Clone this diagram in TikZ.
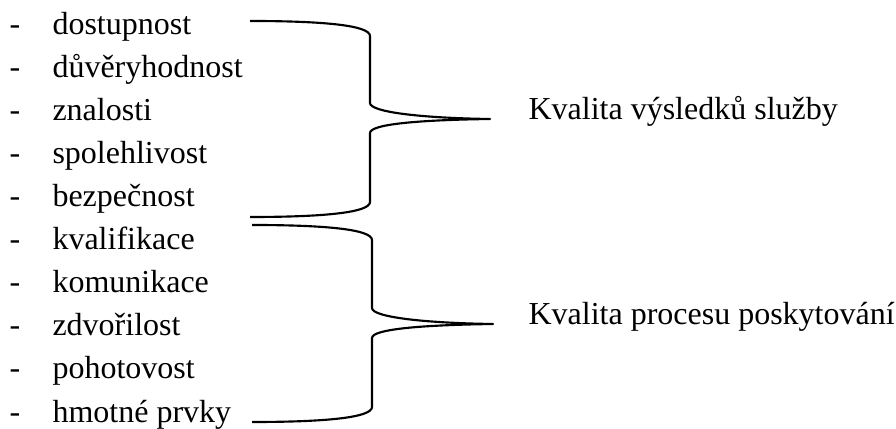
\documentclass[tikz,border=0pt]{standalone}
\usepackage{fontspec}
\setmainfont{Liberation Serif}

\begin{document}
\begin{tikzpicture}[x=0.375pt,y=-0.375pt,font=\fontsize{12}{14.4}\selectfont,
  item/.style={anchor=base west,inner sep=0pt},
  bullet/.style={anchor=base west,inner sep=0pt},
  brace line/.style={draw,line width=0.8pt,line join=round}]
\useasboundingbox (0,0) rectangle (896,429);

% items
\node[bullet] (d1) at (9,35) {-};
\node[item] (i1) at (52,35) {dostupnost};
\node[bullet] (d2) at (9,78) {-};
\node[item] (i2) at (52,78) {důvěryhodnost};
\node[bullet] (d3) at (9,121) {-};
\node[item] (i3) at (52,121) {znalosti};
\node[bullet] (d4) at (9,164) {-};
\node[item] (i4) at (52,164) {spolehlivost};
\node[bullet] (d5) at (9,207) {-};
\node[item] (i5) at (52,207) {bezpečnost};
\node[bullet] (d6) at (9,250) {-};
\node[item] (i6) at (52,250) {kvalifikace};
\node[bullet] (d7) at (9,293) {-};
\node[item] (i7) at (52,293) {komunikace};
\node[bullet] (d8) at (9,336) {-};
\node[item] (i8) at (52,336) {zdvořilost};
\node[bullet] (d9) at (9,379) {-};
\node[item] (i9) at (52,379) {pohotovost};
\node[bullet] (d10) at (9,422) {-};
\node[item] (i10) at (52,422) {hmotné prvky};

% first brace
\coordinate (atop) at (250,21);
\coordinate (abot) at (250,217);
\coordinate (atip) at (490,119);
\draw[brace line] (atop) .. controls (320,21) and (370,25) .. (370,36)
  -- (370,103) .. controls (370,112) and (420,118) .. (atip)
  .. controls (420,120) and (370,124) .. (370,133)
  -- (370,202) .. controls (370,213) and (320,217) .. (abot);
\node[item] (vysledky) at (528,120) {Kvalita výsledků služby};

% second brace
\coordinate (btop) at (252,225);
\coordinate (bbot) at (252,422);
\coordinate (btip) at (493,324);
\draw[brace line] (btop) .. controls (322,225) and (372,229) .. (372,240)
  -- (372,308) .. controls (372,317) and (423,323) .. (btip)
  .. controls (423,325) and (372,329) .. (372,338)
  -- (372,407) .. controls (372,418) and (322,422) .. (bbot);
\node[item] (proces) at (528,325) {Kvalita procesu poskytování};

\end{tikzpicture}
\end{document}
